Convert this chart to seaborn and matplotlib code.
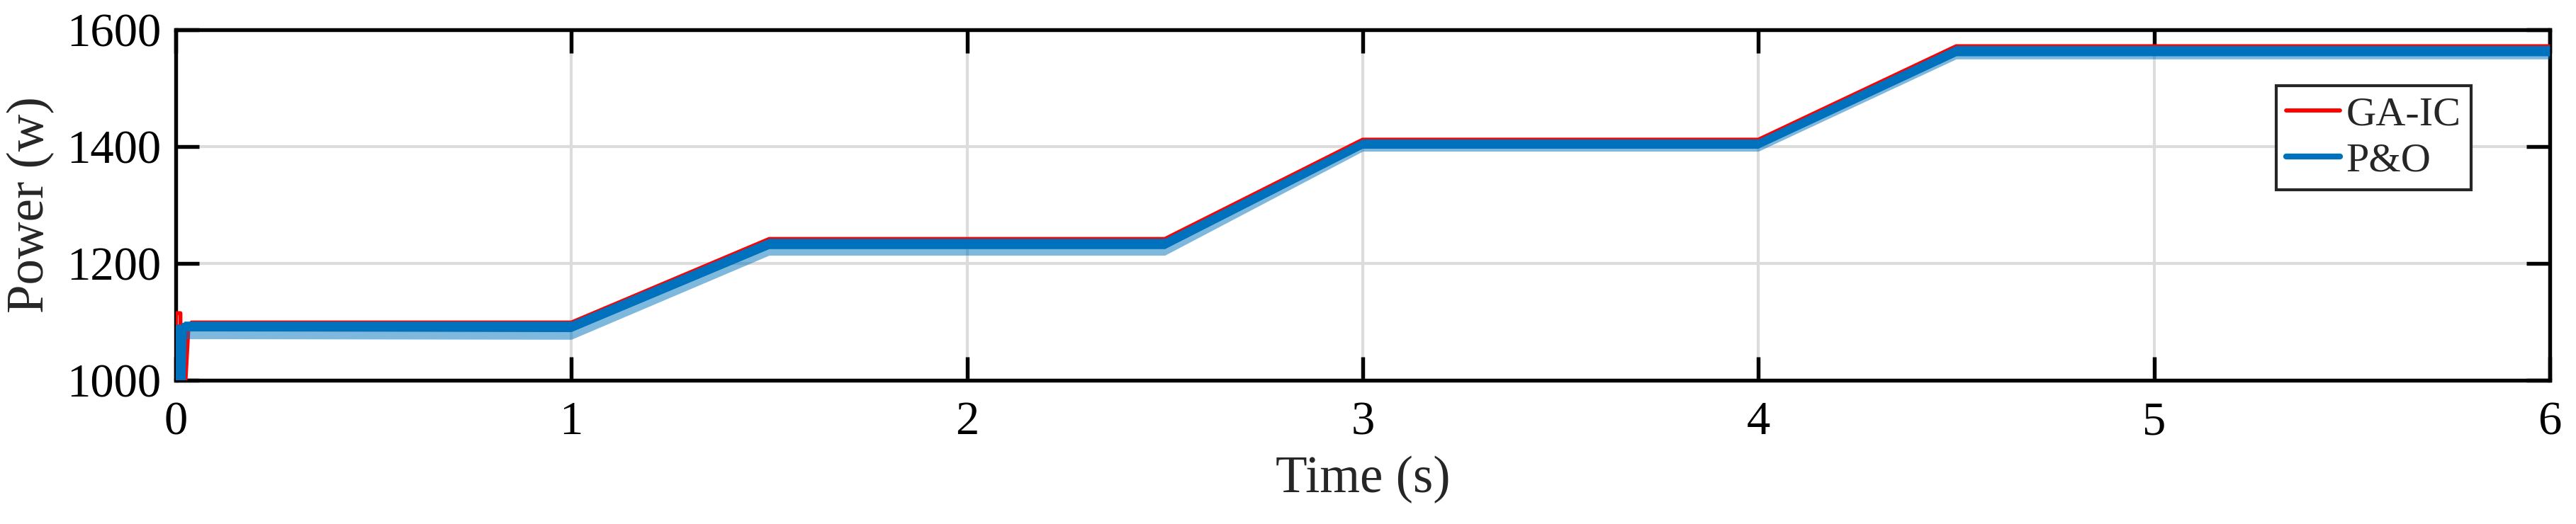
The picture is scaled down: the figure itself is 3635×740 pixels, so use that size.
import numpy as np
import pandas as pd
import matplotlib
matplotlib.use("Agg")
import matplotlib.pyplot as plt
import seaborn as sns

# -----------------------------
# Data
# -----------------------------
# GA-IC (red), including the start-up transient
t_gaic = [0.0, 0.001, 0.012, 0.013, 0.025, 0.032, 0.04, 1.0, 1.5, 2.5, 3.0, 4.0, 4.5, 6.0]
p_gaic = [1000, 1115, 1115, 1000, 1000, 1085, 1099, 1099, 1242, 1242, 1412, 1412, 1572, 1572]

# P&O (blue) centre line
t_po = [0.0, 0.007, 0.008, 0.009, 0.018, 0.021, 1.0, 1.5, 2.5, 3.0, 4.0, 4.5, 6.0]
p_po = [1000, 1091, 1091, 1000, 1000, 1094, 1093, 1235, 1235, 1406, 1406, 1565, 1565]

# P&O ripple band (upper edge, dense lower edge, spike lower edge)
t_band = [0.021, 1.0, 1.5, 2.5, 3.0, 4.0, 4.5, 6.0]
band_hi = [1101, 1101, 1243, 1243, 1413, 1413, 1573, 1573]
band_lo = [1084, 1083, 1225, 1225, 1397, 1397, 1555, 1555]
band_spk = [1071, 1070, 1214, 1214, 1392, 1392, 1550, 1550]

x_ticks = [0, 1, 2, 3, 4, 5, 6]
y_ticks = [1000, 1200, 1400, 1600]

RED = "#FF0000"
BLUE = "#0072BD"

df = pd.concat([
    pd.DataFrame({"Time": t_gaic, "Power": p_gaic, "Method": "GA-IC"}),
    pd.DataFrame({"Time": t_po, "Power": p_po, "Method": "P&O"}),
], ignore_index=True)

sns.set_theme(style="ticks")
plt.rcParams["font.family"] = ["Liberation Serif", "DejaVu Serif"]

fig = plt.figure(figsize=(3635 / 300, 740 / 300), dpi=300)
ax = fig.add_axes([0.0682, 0.2743, 0.9216, 0.6689])

# -----------------------------
# Lines
# -----------------------------
sns.lineplot(data=df[df.Method == "GA-IC"], x="Time", y="Power", ax=ax,
             color=RED, lw=1.3, label="GA-IC", zorder=3)

ax.fill_between(t_band, band_spk, band_lo, color=BLUE, alpha=0.5, lw=0, zorder=4)
ax.fill_between(t_band, band_lo, band_hi, color=BLUE, lw=0, zorder=4)

sns.lineplot(data=df[df.Method == "P&O"], x="Time", y="Power", ax=ax,
             color=BLUE, lw=1.9, label="P&O", zorder=5)

# -----------------------------
# Axes styling
# -----------------------------
ax.set_xlim(0, 6)
ax.set_ylim(1000, 1600)
ax.set_xticks(x_ticks)
ax.set_yticks(y_ticks)
ax.grid(True, color="#dcdcdc", lw=1.0)
ax.set_axisbelow(True)

for s in ax.spines.values():
    s.set_visible(True)
    s.set_color("black")
    s.set_linewidth(1.3)

ax.tick_params(direction="in", length=8, width=1.3, top=True, right=True,
               labelsize=16, colors="black")
ax.tick_params(axis="x", pad=7)
ax.tick_params(axis="y", pad=5)

ax.set_xlabel("Time (s)", fontsize=17.5, labelpad=4)
ax.set_ylabel("Power (w)", fontsize=17.5, labelpad=4)

leg = ax.legend(loc="upper right", bbox_to_anchor=(0.967, 0.840), fontsize=14,
                frameon=True, fancybox=False, handlelength=1.3, handletextpad=0.15,
                borderpad=0.25, borderaxespad=0, labelspacing=0.2)
leg.get_frame().set_edgecolor("#262626")
leg.get_frame().set_linewidth(1.0)
leg.get_frame().set_alpha(1)
for h in leg.get_lines():
    h.set_linewidth(2.0 if h.get_color() == BLUE else 1.4)

fig.savefig("out.png", dpi=300)
plt.close(fig)
